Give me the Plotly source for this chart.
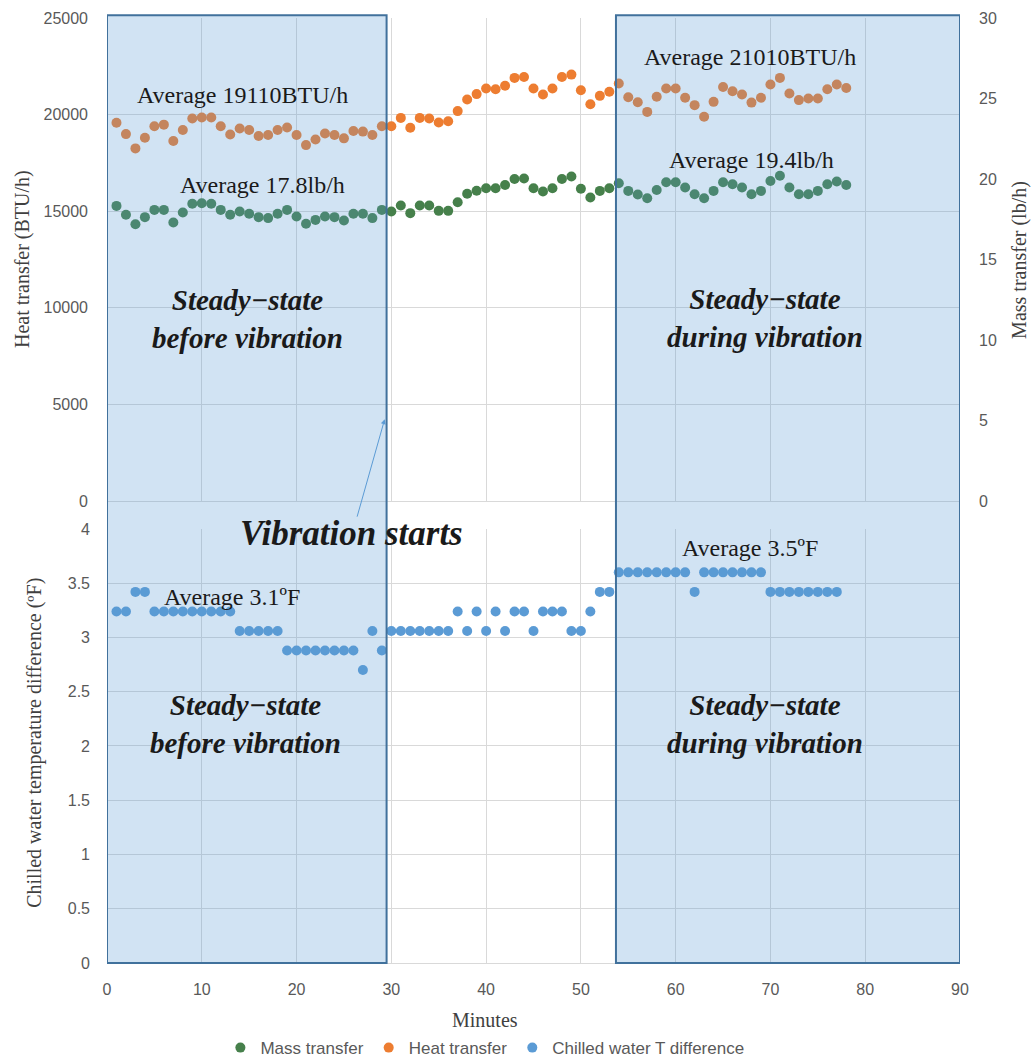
import plotly.graph_objects as go

# minutes for each sample
minutes_top = list(range(1, 79))
minutes_bot = list(range(1, 78))

heat_transfer = [19575, 18990, 18250, 18800, 19400, 19480, 18630, 19200, 19800, 19850,
                 19850, 19400, 18970, 19280, 19200, 18890, 18940, 19200, 19330, 18940,
                 18420, 18710, 19020, 18940, 18770, 19150, 19120, 18940, 19400, 19400,
                 19830, 19320, 19830, 19800, 19590, 19660, 20180, 20780, 21060, 21350,
                 21310, 21490, 21900, 21950, 21350, 21040, 21350, 21950, 22070, 21260,
                 20540, 20970, 21180, 21610, 20900, 20640, 20140, 20920, 21350, 21350,
                 20870, 20490, 19890, 20660, 21430, 21210, 21040, 20620, 20870, 21560,
                 21900, 21090, 20750, 20830, 20830, 21310, 21560, 21380]

mass_transfer = [18.33, 17.78, 17.19, 17.63, 18.08, 18.08, 17.30, 17.92, 18.46, 18.49,
                 18.46, 18.08, 17.78, 17.98, 17.84, 17.63, 17.57, 17.84, 18.08, 17.67,
                 17.22, 17.46, 17.67, 17.63, 17.42, 17.84, 17.84, 17.57, 18.08, 17.98,
                 18.35, 17.88, 18.35, 18.35, 18.02, 18.02, 18.56, 19.08, 19.27, 19.43,
                 19.42, 19.63, 20.00, 20.03, 19.43, 19.22, 19.43, 20.00, 20.15, 19.39,
                 18.85, 19.26, 19.43, 19.74, 19.26, 19.04, 18.80, 19.32, 19.80, 19.80,
                 19.47, 19.05, 18.80, 19.26, 19.80, 19.67, 19.47, 19.05, 19.26, 19.88,
                 20.20, 19.47, 19.05, 19.05, 19.26, 19.67, 19.84, 19.63]

chilled_dt = [3.24, 3.24, 3.42, 3.42, 3.24, 3.24, 3.24, 3.24, 3.24, 3.24,
              3.24, 3.24, 3.24, 3.06, 3.06, 3.06, 3.06, 3.06, 2.88, 2.88,
              2.88, 2.88, 2.88, 2.88, 2.88, 2.88, 2.70, 3.06, 2.88, 3.06,
              3.06, 3.06, 3.06, 3.06, 3.06, 3.06, 3.24, 3.06, 3.24, 3.06,
              3.24, 3.06, 3.24, 3.24, 3.06, 3.24, 3.24, 3.24, 3.06, 3.06,
              3.24, 3.42, 3.42, 3.60, 3.60, 3.60, 3.60, 3.60, 3.60, 3.60,
              3.60, 3.42, 3.60, 3.60, 3.60, 3.60, 3.60, 3.60, 3.60, 3.42,
              3.42, 3.42, 3.42, 3.42, 3.42, 3.42, 3.42]

before_window = [0, 29.5]
during_window = [53.7, 90]

GRID = '#D9D9D9'
SANS = 'Liberation Sans, Arial, sans-serif'
SERIF = 'Liberation Serif, serif'
TICK_FONT = dict(family=SANS, size=16, color='#595959')

fig = go.Figure()

fig.add_trace(go.Scatter(x=minutes_top, y=mass_transfer, mode='markers', name='Mass transfer',
                         marker=dict(color='#46804B', size=10), xaxis='x2', yaxis='y2'))
fig.add_trace(go.Scatter(x=minutes_top, y=heat_transfer, mode='markers', name='Heat transfer',
                         marker=dict(color='#ED7D31', size=10), xaxis='x2', yaxis='y'))
fig.add_trace(go.Scatter(x=minutes_bot, y=chilled_dt, mode='markers', name='Chilled water T difference',
                         marker=dict(color='#5B9BD5', size=10), xaxis='x', yaxis='y3'))

axis_common = dict(showgrid=True, gridcolor=GRID, gridwidth=1, zeroline=False,
                   tickfont=TICK_FONT, ticks='', showline=False)

fig.update_layout(
    width=1031, height=1059,
    margin=dict(l=107, r=71, t=18, b=96, autoexpand=False),
    plot_bgcolor='white', paper_bgcolor='white',
    xaxis=dict(axis_common, range=[0, 90], dtick=10, anchor='y3', domain=[0, 1],
               showline=True, linecolor=GRID, ticklabelstandoff=12),
    xaxis2=dict(axis_common, range=[0, 90], dtick=10, anchor='y', domain=[0, 1],
                showticklabels=False, showline=True, linecolor=GRID),
    yaxis=dict(axis_common, range=[0, 25000], dtick=5000, domain=[0.4889, 1], anchor='x2',
               tickformat='d', ticklabelstandoff=18),
    yaxis2=dict(axis_common, range=[0, 30], dtick=5, overlaying='y', side='right', anchor='x2',
                showgrid=False, ticklabelstandoff=18),
    yaxis3=dict(axis_common, range=[0, 4], dtick=0.5, domain=[0, 0.4593], anchor='x',
                ticklabelstandoff=16),
    legend=dict(orientation='h', x=0.443, xanchor='center', y=-0.09, yanchor='middle',
                font=dict(family=SANS, size=17, color='#595959'),
                itemwidth=30, tracegroupgap=0),
    showlegend=True,
)

# shaded steady-state windows spanning both panels
for w in (before_window, during_window):
    fig.add_shape(type='rect', xref='x', yref='paper', x0=w[0], x1=w[1], y0=0, y1=1.003,
                  fillcolor='rgba(91,155,213,0.28)', line=dict(color='#41719C', width=2), layer='above')

notes = [
    ('Average 19110BTU/h', 14.3, 21020, 'x2', 'y'),
    ('Average 17.8lb/h', 16.4, 16370, 'x2', 'y'),
    ('Average 21010BTU/h', 67.8, 22980, 'x2', 'y'),
    ('Average 19.4lb/h', 68.0, 17660, 'x2', 'y'),
    ('Average 3.1ºF', 13.2, 3.37, 'x', 'y3'),
    ('Average 3.5ºF', 67.8, 3.82, 'x', 'y3'),
]
for txt, xx, yy, xr, yr in notes:
    fig.add_annotation(text=txt, x=xx, y=yy, xref=xr, yref=yr, showarrow=False,
                       font=dict(family=SERIF, size=24, color='#1a1a1a'))

steady = [
    ('<b><i>Steady−state<br>before vibration</i></b>', 14.8, 9400, 'x2', 'y'),
    ('<b><i>Steady−state<br>during vibration</i></b>', 69.4, 9450, 'x2', 'y'),
    ('<b><i>Steady−state<br>before vibration</i></b>', 14.6, 2.2, 'x', 'y3'),
    ('<b><i>Steady−state<br>during vibration</i></b>', 69.4, 2.2, 'x', 'y3'),
]
for txt, xx, yy, xr, yr in steady:
    fig.add_annotation(text=txt, x=xx, y=yy, xref=xr, yref=yr, showarrow=False,
                       font=dict(family=SERIF, size=29, color='#1a1a1a'))

fig.add_annotation(text='<b><i>Vibration starts</i></b>', x=0.287, y=0.455, xref='paper', yref='paper',
                   xanchor='center', yanchor='middle', showarrow=False,
                   font=dict(family=SERIF, size=35, color='#1a1a1a'))
fig.add_annotation(text='', x=29.3, y=4235, xref='x2', yref='y', ax=-28, ay=99,
                   showarrow=True, arrowhead=2, arrowsize=1, arrowwidth=1, arrowcolor='#5B9BD5')

# axis titles
titles = [
    ('Heat transfer (BTU/h)', -0.0985, 0.745, -90),
    ('Mass transfer (lb/h)', 1.0703, 0.744, -90),
    ('Chilled water temperature difference (ºF)', -0.0844, 0.233, -90),
    ('Minutes', 0.443, -0.0603, 0),
]
for txt, xx, yy, ang in titles:
    fig.add_annotation(text=txt, x=xx, y=yy, xref='paper', yref='paper', textangle=ang,
                       xanchor='center', yanchor='middle', showarrow=False,
                       font=dict(family=SERIF, size=20, color='#404040'))

# drop the page's default body margin so the figure fills the window exactly
fig.write_html("out.html", config={'displayModeBar': False},
               post_script="document.body.style.margin='0px';document.body.style.overflow='hidden';")
